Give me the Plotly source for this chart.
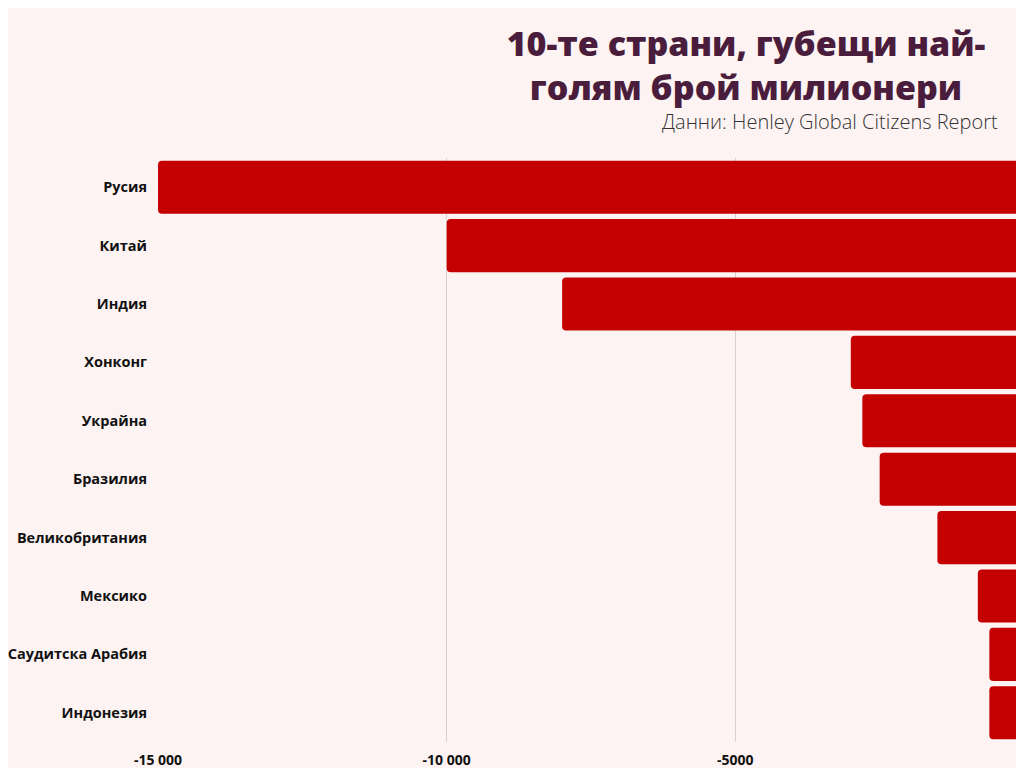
import plotly.graph_objects as go

# Data: net outflow of millionaires (Henley Global Citizens Report)
countries = ['Русия', 'Китай', 'Индия', 'Хонконг', 'Украйна', 'Бразилия',
             'Великобритания', 'Мексико', 'Саудитска Арабия', 'Индонезия']
outflow = [-15000, -10000, -8000, -3000, -2800, -2500, -1500, -800, -600, -600]
tick_vals = [-15000, -10000, -5000, 0]
tick_text = ['-15 000', '-10 000', '-5000', '0']

bg = '#FDF3F3'

fig = go.Figure(go.Bar(
    x=outflow,
    y=countries,
    orientation='h',
    marker=dict(color='#C40000', line=dict(width=0)),
))

# page body has an 8px margin, so the figure is a bit smaller than the window
fig.update_layout(
    width=1016,
    height=760,
    paper_bgcolor=bg,
    plot_bgcolor=bg,
    margin=dict(l=150, r=0, t=150, b=26),
    bargap=0.09,
    barcornerradius=4,
    showlegend=False,
    font=dict(family='Open Sans', color='#111111'),
    title=dict(
        text='10-те страни, губещи най-<br>голям брой милионери',
        x=0.7264, xanchor='center', xref='container',
        y=0.9368, yanchor='middle', yref='container',
        font=dict(family='Open Sans', size=34, color='#4A1D3C', weight=800),
    ),
    annotations=[dict(
        text='Данни: Henley Global Citizens Report',
        xref='paper', yref='paper', x=0.972, y=1.063,
        xanchor='right', yanchor='middle', showarrow=False,
        font=dict(family='Open Sans', size=20, color='#333333', weight=300),
    )],
)

fig.update_xaxes(
    range=[-15000, 0],
    tickvals=tick_vals,
    ticktext=tick_text,
    showgrid=True,
    gridcolor='#D6D0D0',
    gridwidth=1,
    zeroline=False,
    showline=False,
    ticks='',
    ticklabelstandoff=8,
    automargin=False,
    tickfont=dict(family='Open Sans', size=14, color='#111111', weight='bold'),
)
fig.update_yaxes(
    categoryorder='array',
    categoryarray=countries[::-1],
    showgrid=False,
    ticks='',
    ticklabelstandoff=10,
    automargin=False,
    tickfont=dict(family='Open Sans', size=14.5, color='#111111', weight='bold'),
)

fig.write_html("out.html")
